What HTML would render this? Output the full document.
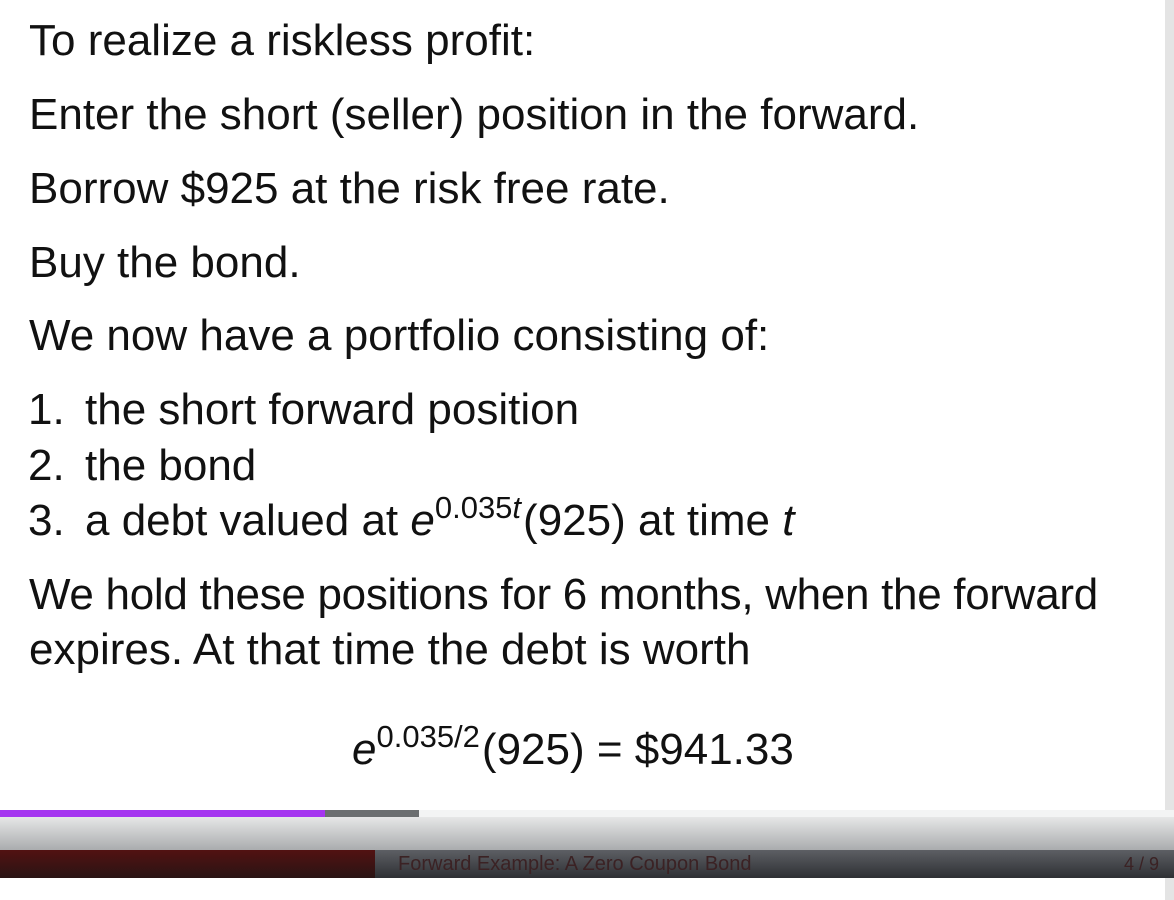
<!DOCTYPE html>
<html><head><meta charset="utf-8"><style>
body{margin:0;width:1174px;height:900px;background:#fff;position:relative;overflow:hidden;font-family:"Liberation Sans",sans-serif;color:#111}
.l{position:absolute;left:29px;font-size:44px;line-height:44px;white-space:nowrap}
.n{position:absolute;left:28px;font-size:44px;line-height:44px;white-space:nowrap}
.n span.t{position:absolute;left:57px}
sup{font-size:31px;vertical-align:0;position:relative;top:-17px;margin-right:2px}
i{font-style:italic}
</style></head><body>
<div>
<div class="l" style="top:19px">To realize a riskless profit:</div>
<div class="l" style="top:93px">Enter the short (seller) position in the forward.</div>
<div class="l" style="top:167px">Borrow $925 at the risk free rate.</div>
<div class="l" style="top:241px">Buy the bond.</div>
<div class="l" style="top:314px">We now have a portfolio consisting of:</div>
<div class="n" style="top:388px">1.<span class="t">the short forward position</span></div>
<div class="n" style="top:444px">2.<span class="t">the bond</span></div>
<div class="n" style="top:499px">3.<span class="t">a debt valued at <i>e</i><sup>0.035<i>t</i></sup>(925) at time <i>t</i></span></div>
<div class="l" style="top:573px;letter-spacing:-0.3px">We hold these positions for 6 months, when the forward</div>
<div class="l" style="top:628px">expires. At that time the debt is worth</div>
<div class="l" style="top:728px;left:352px"><i>e</i><sup>0.035/2</sup>(925) = $941.33</div>
</div>
<div style="position:absolute;left:1165px;top:0;width:9px;height:900px;background:#e4e4e4"></div>
<div style="position:absolute;left:0;top:810px;width:1174px;height:7px;background:#f3f4f4"></div>
<div style="position:absolute;left:0;top:810px;width:419px;height:7px;background:#6b6e70"></div>
<div style="position:absolute;left:0;top:810px;width:325px;height:7px;background:#a535f0"></div>
<div style="position:absolute;left:0;top:817px;width:1174px;height:61px;background:linear-gradient(#e6e7e7,#a9abad 55%,#3a3c40)"></div>
<div style="position:absolute;left:0;top:850px;width:1174px;height:28px;background:linear-gradient(#5d5f64,#2e3034)"></div>
<div style="position:absolute;left:0;top:850px;width:375px;height:28px;background:linear-gradient(#521212,#2a1414)"></div>
<div style="position:absolute;left:398px;top:852px;font-size:20px;line-height:24px;color:#3b2224">Forward Example: A Zero Coupon Bond</div>
<div style="position:absolute;left:1124px;top:853px;font-size:18px;line-height:22px;color:#3b2224">4 / 9</div>
</body></html>
